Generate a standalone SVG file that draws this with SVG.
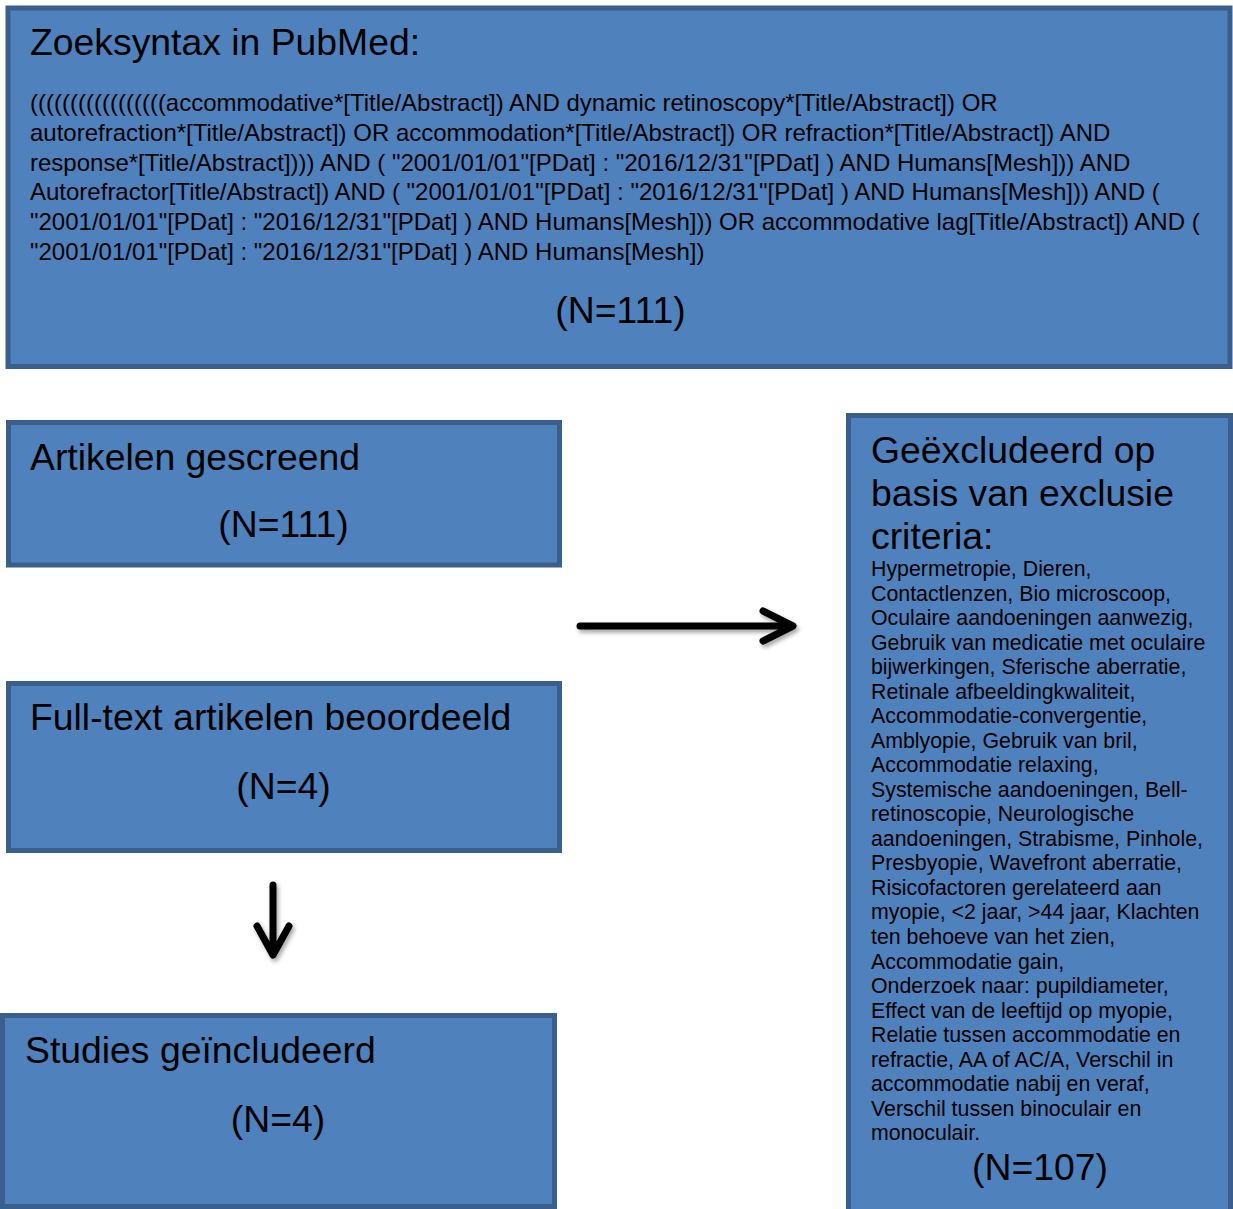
<svg xmlns="http://www.w3.org/2000/svg" width="1233" height="1209" viewBox="0 0 1233 1209">
<style>
.box{fill:#4f81bd;stroke:#3a5f8c;stroke-width:5}
.t{font-family:"Liberation Sans",Arial,sans-serif;fill:#000}
.big{font-size:37.33px}
.q{font-size:24px}
.s{font-size:21.33px}
.arr{fill:none;stroke:#000;stroke-width:7;stroke-linecap:round;stroke-linejoin:round}
</style>
<defs>
<filter id="sh" x="-20%" y="-50%" width="140%" height="200%">
<feDropShadow dx="2" dy="3" stdDeviation="2" flood-color="#000" flood-opacity="0.35"/>
</filter>
</defs>
<rect width="1233" height="1209" fill="#fff"/>
<g id="search">
<rect class="box" x="8" y="8" width="1222" height="358.5"/>
<text class="t big" x="30" y="55">Zoeksyntax in PubMed:</text>
<text class="t q" x="30">
<tspan x="30" y="111">(((((((((((((((((accommodative*[Title/Abstract]) AND dynamic retinoscopy*[Title/Abstract]) OR</tspan>
<tspan x="30" y="140.8">autorefraction*[Title/Abstract]) OR accommodation*[Title/Abstract]) OR refraction*[Title/Abstract]) AND</tspan>
<tspan x="30" y="170.5">response*[Title/Abstract]))) AND ( "2001/01/01"[PDat] : "2016/12/31"[PDat] ) AND Humans[Mesh])) AND</tspan>
<tspan x="30" y="200.3">Autorefractor[Title/Abstract]) AND ( "2001/01/01"[PDat] : "2016/12/31"[PDat] ) AND Humans[Mesh])) AND (</tspan>
<tspan x="30" y="230">"2001/01/01"[PDat] : "2016/12/31"[PDat] ) AND Humans[Mesh])) OR accommodative lag[Title/Abstract]) AND (</tspan>
<tspan x="30" y="259.8">"2001/01/01"[PDat] : "2016/12/31"[PDat] ) AND Humans[Mesh])</tspan>
</text>
<text class="t big" x="620.5" y="323" text-anchor="middle">(N=111)</text>
</g>
<g id="screened">
<rect class="box" x="8.5" y="422.5" width="551" height="142.5"/>
<text class="t big" x="30" y="470">Artikelen gescreend</text>
<text class="t big" x="283.5" y="537" text-anchor="middle">(N=111)</text>
</g>
<g id="fulltext">
<rect class="box" x="8.5" y="683.5" width="551" height="167"/>
<text class="t big" x="30" y="730">Full-text artikelen beoordeeld</text>
<text class="t big" x="283.5" y="799" text-anchor="middle">(N=4)</text>
</g>
<g id="included">
<rect class="box" x="2.5" y="1015.5" width="552" height="191"/>
<text class="t big" x="25" y="1063">Studies geïncludeerd</text>
<text class="t big" x="278" y="1132" text-anchor="middle">(N=4)</text>
</g>
<g id="excluded">
<rect class="box" x="848.5" y="415.5" width="382" height="800"/>
<text class="t big">
<tspan x="871" y="463">Geëxcludeerd op</tspan>
<tspan x="871" y="506">basis van exclusie</tspan>
<tspan x="871" y="549">criteria:</tspan>
</text>
<text class="t s">
<tspan x="871" y="576">Hypermetropie, Dieren,</tspan>
<tspan x="871" y="600.5">Contactlenzen, Bio microscoop,</tspan>
<tspan x="871" y="625.1">Oculaire aandoeningen aanwezig,</tspan>
<tspan x="871" y="649.6">Gebruik van medicatie met oculaire</tspan>
<tspan x="871" y="674.1">bijwerkingen, Sferische aberratie,</tspan>
<tspan x="871" y="698.7">Retinale afbeeldingkwaliteit,</tspan>
<tspan x="871" y="723.2">Accommodatie-convergentie,</tspan>
<tspan x="871" y="747.7">Amblyopie, Gebruik van bril,</tspan>
<tspan x="871" y="772.2">Accommodatie relaxing,</tspan>
<tspan x="871" y="796.8">Systemische aandoeningen, Bell-</tspan>
<tspan x="871" y="821.3">retinoscopie, Neurologische</tspan>
<tspan x="871" y="845.8">aandoeningen, Strabisme, Pinhole,</tspan>
<tspan x="871" y="870.4">Presbyopie, Wavefront aberratie,</tspan>
<tspan x="871" y="894.9">Risicofactoren gerelateerd aan</tspan>
<tspan x="871" y="919.4">myopie, &lt;2 jaar, &gt;44 jaar, Klachten</tspan>
<tspan x="871" y="944">ten behoeve van het zien,</tspan>
<tspan x="871" y="968.5">Accommodatie gain,</tspan>
<tspan x="871" y="993">Onderzoek naar: pupildiameter,</tspan>
<tspan x="871" y="1017.5">Effect van de leeftijd op myopie,</tspan>
<tspan x="871" y="1042.1">Relatie tussen accommodatie en</tspan>
<tspan x="871" y="1066.6">refractie, AA of AC/A, Verschil in</tspan>
<tspan x="871" y="1091.1">accommodatie nabij en veraf,</tspan>
<tspan x="871" y="1115.7">Verschil tussen binoculair en</tspan>
<tspan x="871" y="1140.2">monoculair.</tspan>
</text>
<text class="t big" x="1040" y="1180" text-anchor="middle">(N=107)</text>
</g>
<g id="connectors" filter="url(#sh)">
<path class="arr" d="M580,626 H792 M763,611 L793,626 L763,641"/>
<path class="arr" d="M273,885 V954 M257,926 L273,955 L289,926"/>
</g>
</svg>
